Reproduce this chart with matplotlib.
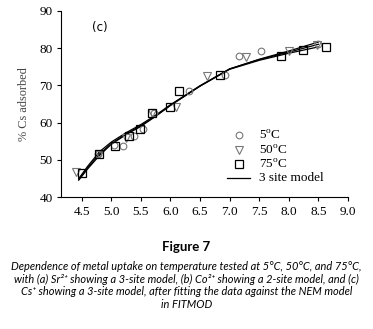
import matplotlib
matplotlib.use("Agg")
import matplotlib.pyplot as plt
import numpy as np

# measured points
ph_5 = [4.78, 5.05, 5.2, 5.38, 5.53, 5.72, 6.31, 6.92, 7.15, 7.53, 8.49]
cs_5 = [51.6, 54.0, 53.8, 56.3, 58.2, 62.7, 68.5, 72.8, 77.9, 79.3, 81.0]
ph_50 = [4.41, 4.79, 5.25, 5.68, 6.1, 6.62, 7.28, 8.0, 8.47]
cs_50 = [46.9, 51.6, 56.0, 62.5, 64.1, 72.5, 77.5, 79.2, 80.8]
ph_75 = [4.5, 4.79, 5.07, 5.3, 5.49, 5.69, 5.99, 6.15, 6.83, 7.86, 8.24, 8.62]
cs_75 = [46.6, 51.6, 53.8, 56.3, 58.3, 62.7, 64.3, 68.5, 72.7, 77.9, 79.6, 80.2]

# 3 site model fits
fit_ph = [4.45, 4.6, 4.8, 5.0, 5.25, 5.5, 5.75, 6.0, 6.5, 7.0, 7.5, 8.0, 8.5]
fit_5 = [44.6, 47.6, 51.2, 54.2, 56.8, 59.0, 61.7, 64.6, 69.8, 74.4, 77.0, 79.2, 81.6]
fit_50 = [45.0, 48.3, 52.2, 54.8, 57.3, 59.5, 62.0, 64.8, 69.9, 74.4, 76.9, 78.9, 81.0]
fit_75 = [44.8, 47.9, 51.6, 54.4, 57.0, 59.2, 61.8, 64.7, 69.8, 74.3, 76.7, 78.6, 80.3]

xticks = [4.5, 5.0, 5.5, 6.0, 6.5, 7.0, 7.5, 8.0, 8.5, 9.0]
yticks = [40, 50, 60, 70, 80, 90]

serif = "Liberation Serif"
plt.rcParams["mathtext.fontset"] = "custom"
plt.rcParams["mathtext.rm"] = serif

fig = plt.figure(figsize=(3.73, 3.29), dpi=100)
ax = fig.add_axes([0.1635, 0.4003, 0.7695, 0.5672])

ax.plot(fit_ph, fit_5, color="black", lw=0.9)
ax.plot(fit_ph, fit_50, color="black", lw=0.9)
ax.plot(fit_ph, fit_75, color="black", lw=0.9)

ax.plot(ph_5, cs_5, "o", ms=4.8, mfc="none", mec="#777777", mew=0.8)
ax.plot(ph_50, cs_50, "v", ms=5.2, mfc="none", mec="#777777", mew=0.8)
ax.plot(ph_75, cs_75, "s", ms=5.4, mfc="none", mec="black", mew=0.9)

ax.set_xlim(4.15, 9.0)
ax.set_ylim(40, 90)
ax.set_xticks(xticks)
ax.set_xticklabels(["%.1f" % t for t in xticks], fontfamily=serif, fontsize=9.5)
ax.set_yticks(yticks)
ax.set_yticklabels([str(t) for t in yticks], fontfamily=serif, fontsize=9.5)
ax.tick_params(direction="out", length=3, width=0.8, pad=3)
ax.spines["top"].set_visible(False)
ax.spines["right"].set_visible(False)
ax.set_ylabel("% Cs adsorbed", fontfamily=serif, fontsize=8.8, color="#444444", labelpad=7)
ax.text(4.67, 85.4, "(c)", fontsize=8.5, fontfamily="DejaVu Sans", va="center")

# legend drawn by hand
lx, tx = 7.15, 7.5
ax.plot([lx], [56.7], "o", ms=4.8, mfc="none", mec="#777777", mew=0.8)
ax.plot([lx], [52.6], "v", ms=5.2, mfc="none", mec="#777777", mew=0.8)
ax.plot([lx], [48.8], "s", ms=5.4, mfc="none", mec="black", mew=0.9)
ax.plot([lx - 0.2, lx + 0.2], [45.1, 45.1], color="black", lw=0.9)
labels = [r"5$^{\rm o}$C", r"50$^{\rm o}$C", r"75$^{\rm o}$C", "3 site model"]
for yv, lab in zip([56.7, 52.6, 48.8, 45.1], labels):
    ax.text(tx, yv, lab, fontfamily=serif, fontsize=9.5, va="center")

fig.text(0.5, 1 - 247 / 329, "Figure 7", ha="center", va="center",
         fontfamily="Lato", fontweight="bold", fontsize=9.5)
caption = ["Dependence of metal uptake on temperature tested at 5°C, 50°C, and 75°C,",
           "with (a) Sr²⁺ showing a 3-site model, (b) Co²⁺ showing a 2-site model, and (c)",
           "Cs⁺ showing a 3-site model, after fitting the data against the NEM model",
           "in FITMOD"]
for i, line in enumerate(caption):
    fig.text(0.5, 1 - (267 + 12.4 * i) / 329, line, ha="center", va="center",
             fontfamily=["Lato", "DejaVu Sans"], fontstyle="italic", fontsize=7.95)

fig.savefig("out.png", dpi=100)
